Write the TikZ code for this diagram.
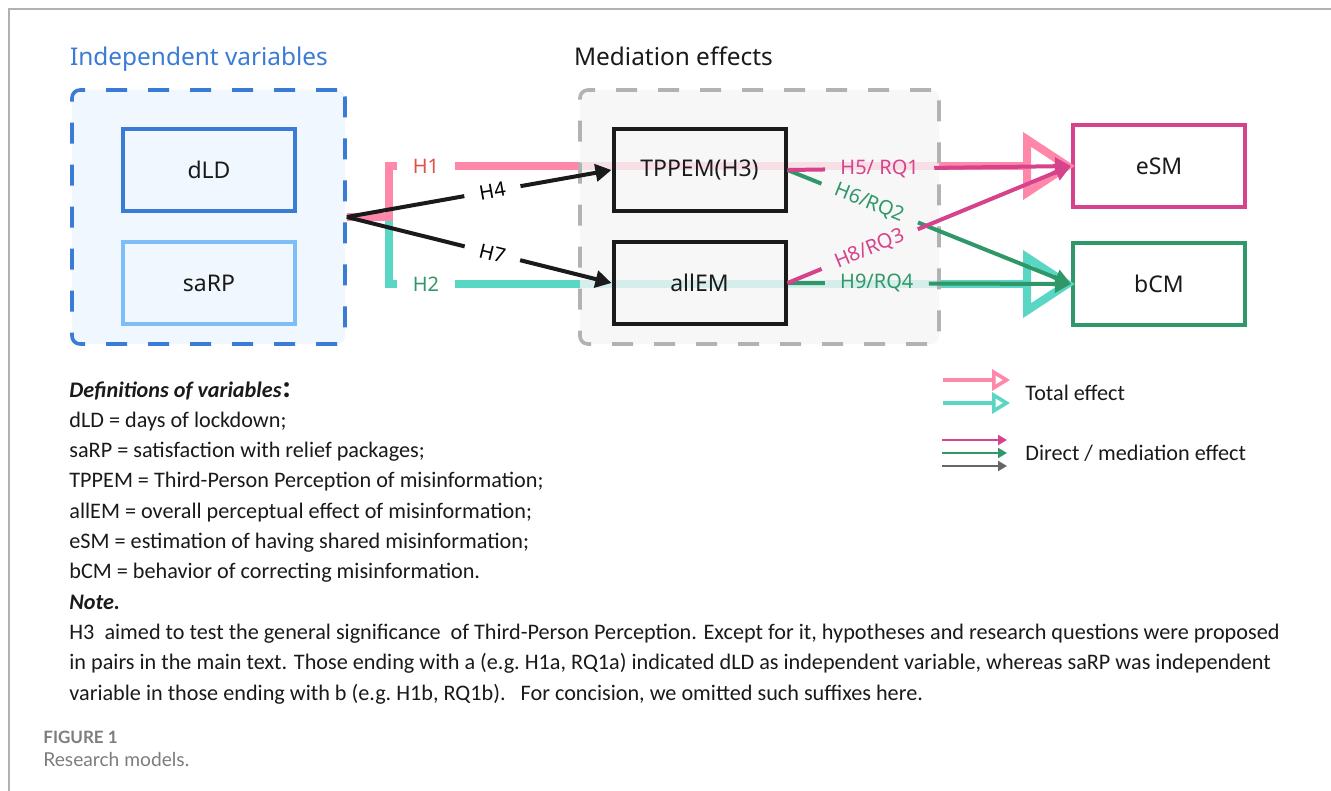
\documentclass[tikz,border=0pt]{standalone}
\usepackage{fontspec}
\setmainfont{Noto Sans}
\newfontfamily\notefont{Carlito}
\newfontfamily\capfont{Lato}
\newfontfamily\cjk{Noto Sans CJK SC}
\usetikzlibrary{arrows.meta}

\definecolor{ivblue}{RGB}{58,123,213}
\definecolor{ivlight}{RGB}{125,190,247}
\definecolor{ivfill}{RGB}{240,247,254}
\definecolor{medfill}{RGB}{245,245,245}
\definecolor{medgray}{RGB}{178,178,178}
\definecolor{totpink}{RGB}{255,136,170}
\definecolor{totteal}{RGB}{90,214,196}
\definecolor{dirmag}{RGB}{214,67,140}
\definecolor{dirgreen}{RGB}{48,152,104}
\definecolor{hred}{RGB}{222,82,72}
\definecolor{linkblack}{RGB}{26,26,26}
\definecolor{capgray}{RGB}{125,125,125}

\tikzset{
  varbox/.style={draw, line width=2pt, minimum width=86pt, minimum height=41pt,
    font=\fontsize{11.5}{14}\selectfont, text=linkblack},
  groupbox/.style={line width=1.8pt, dash pattern=on 10.5pt off 10.5pt,
    rounded corners=4pt, minimum height=127pt},
  hlab/.style={inner xsep=7.5pt, inner ysep=2pt, font=\fontsize{10}{12}\selectfont},
  total/.style={line width=4pt},
  direct/.style={line width=2pt},
  bigtip/.style={-{Triangle[open, length=26pt, width=33pt]}, shorten >=-2pt},
  smalltip/.style={-{Triangle[length=8pt, width=8.5pt]}},
}

\begin{document}
\begin{tikzpicture}[x=0.5pt, y=-0.5pt]
\useasboundingbox[fill=white] (0,0) rectangle (1331,791);
\draw[capgray!60, line width=0.7pt] (9,791) -- (9,9) -- (1331,9);

% independent variables
\node[anchor=base west, text=ivblue, font=\fontsize{12.2}{14}\selectfont] (ivtitle) at (63,66) {Independent variables};
\node[groupbox, draw=ivblue, fill=ivfill, minimum width=136.5pt] (iv) at (208.5,217) {};
\node[varbox, draw=ivblue] (dld) at (209,170) {dLD};
\node[varbox, draw=ivlight] (sarp) at (209,283) {saRP};

% outcomes
\node[varbox, draw=dirmag, fill=white] (esm) at (1159,166) {eSM};
\node[varbox, draw=dirgreen, fill=white] (bcm) at (1159,284) {bCM};

% total effects
\node[hlab, text=hred] (h1) at (426,166) {H1};
\node[hlab, text=dirgreen] (h2) at (426,284) {H2};
\draw[total, totteal] (iv.east) -| (389,284) -- (h2);
\draw[total, totteal, bigtip] (h2) -- (bcm.west);
\draw[total, totpink] (iv.east) -| (389,166) -- (h1);
\draw[total, totpink, bigtip] (h1) -- (esm.west);

% mediators
\node[anchor=base west, text=linkblack, font=\fontsize{12.2}{14}\selectfont] (medtitle) at (567,66) {Mediation effects};
\node[groupbox, draw=medgray, fill=medfill, fill opacity=0.8, minimum width=179.5pt] (med) at (759.5,217) {};
\node[varbox, draw=linkblack] (tppem) at (699.5,170) {TPPEM(H3)};
\node[varbox, draw=linkblack] (allem) at (699.5,283) {allEM};

% paths to mediators
\path (iv.east) -- node[hlab, sloped, pos=.55] (h4) {H4} (tppem.west);
\path (iv.east) -- node[hlab, sloped, pos=.55] (h7) {H7} (allem.west);
\draw[direct, linkblack] (iv.east) -- (h4);
\draw[direct, linkblack, smalltip] (h4) -- (tppem.west);
\draw[direct, linkblack] (iv.east) -- (h7);
\draw[direct, linkblack, smalltip] (h7) -- (allem.west);

% direct / mediation paths
\path (tppem.east) -- node[hlab, text=dirmag, pos=.325] (h5) {H5/ RQ1} (esm.west);
\path (tppem.east) -- node[hlab, text=dirgreen, sloped, pos=.29] (h6) {H6/RQ2} (bcm.west);
\path (allem.east) -- node[hlab, text=dirmag, sloped, pos=.29] (h8) {H8/RQ3} (esm.west);
\path (allem.east) -- node[hlab, text=dirgreen, pos=.315] (h9) {H9/RQ4} (bcm.west);
\draw[direct, dirgreen] (tppem.east) -- (h6);
\draw[direct, dirgreen, smalltip] (h6) -- (bcm.west);
\draw[direct, dirgreen] (allem.east) -- (h9);
\draw[direct, dirgreen, smalltip] (h9) -- (bcm.west);
\draw[direct, dirmag] (tppem.east) -- (h5);
\draw[direct, dirmag, smalltip] (h5) -- (esm.west);
\draw[direct, dirmag] (allem.east) -- (h8);
\draw[direct, dirmag, smalltip] (h8) -- (esm.west);

% legend
\coordinate (lgpa) at (943,380); \coordinate (lgpb) at (1010,380);
\coordinate (lgta) at (943,403); \coordinate (lgtb) at (1010,403);
\coordinate (lgma) at (942,440); \coordinate (lgmb) at (1007,440);
\coordinate (lgga) at (942,453); \coordinate (lggb) at (1007,453);
\coordinate (lgka) at (942,466); \coordinate (lgkb) at (1007,466);
\draw[totpink, line width=1.8pt, -{Triangle[open, length=9pt, width=10.5pt]}] (lgpa) -- (lgpb);
\draw[totteal, line width=1.8pt, -{Triangle[open, length=9pt, width=10.5pt]}] (lgta) -- (lgtb);
\draw[dirmag, line width=1.1pt, -{Triangle[length=4.5pt, width=5pt]}] (lgma) -- (lgmb);
\draw[dirgreen, line width=1.1pt, -{Triangle[length=4.5pt, width=5pt]}] (lgga) -- (lggb);
\draw[black!60, line width=1.1pt, -{Triangle[length=4.5pt, width=5pt]}] (lgka) -- (lgkb);
\node[anchor=base west, inner sep=0pt, text=linkblack, font=\notefont\fontsize{11.1}{12}\selectfont] (lgtot) at (1025,400) {Total effect};
\node[anchor=base west, inner sep=0pt, text=linkblack, font=\notefont\fontsize{11.1}{12}\selectfont] (lgdir) at (1025,460) {Direct / mediation effect};

% definitions and note
\node[anchor=north west, align=left, inner sep=0pt, text=linkblack,
  font=\notefont\fontsize{11.1}{15.15}\selectfont] (defs) at (69,381) {%
{\bfseries\itshape Definitions of variables{\cjk ：}}\\
dLD = days of lockdown;\\
saRP = satisfaction with relief packages;\\
TPPEM = Third-Person Perception of misinformation;\\
allEM = overall perceptual effect of misinformation;\\
eSM = estimation of having shared misinformation;\\
bCM = behavior of correcting misinformation.\\
{\bfseries\itshape Note.}\\
H3\ \ aimed to test the general significance\ \ of Third-Person Perception. Except for it, hypotheses and research questions were proposed\\
in pairs in the main text. Those ending with a (e.g.\ H1a, RQ1a) indicated dLD as independent variable, whereas saRP was independent\\
variable in those ending with b (e.g.\ H1b, RQ1b).\ \ \ For concision, we omitted such suffixes here.};

% caption
\node[anchor=base west, inner sep=0pt, text=capgray, font=\capfont\bfseries\fontsize{8.5}{10}\selectfont] (figno) at (43,743) {FIGURE 1};
\node[anchor=base west, inner sep=0pt, text=capgray, font=\capfont\fontsize{9.6}{11}\selectfont] (figcap) at (43,766) {Research models.};
\end{tikzpicture}
\end{document}
